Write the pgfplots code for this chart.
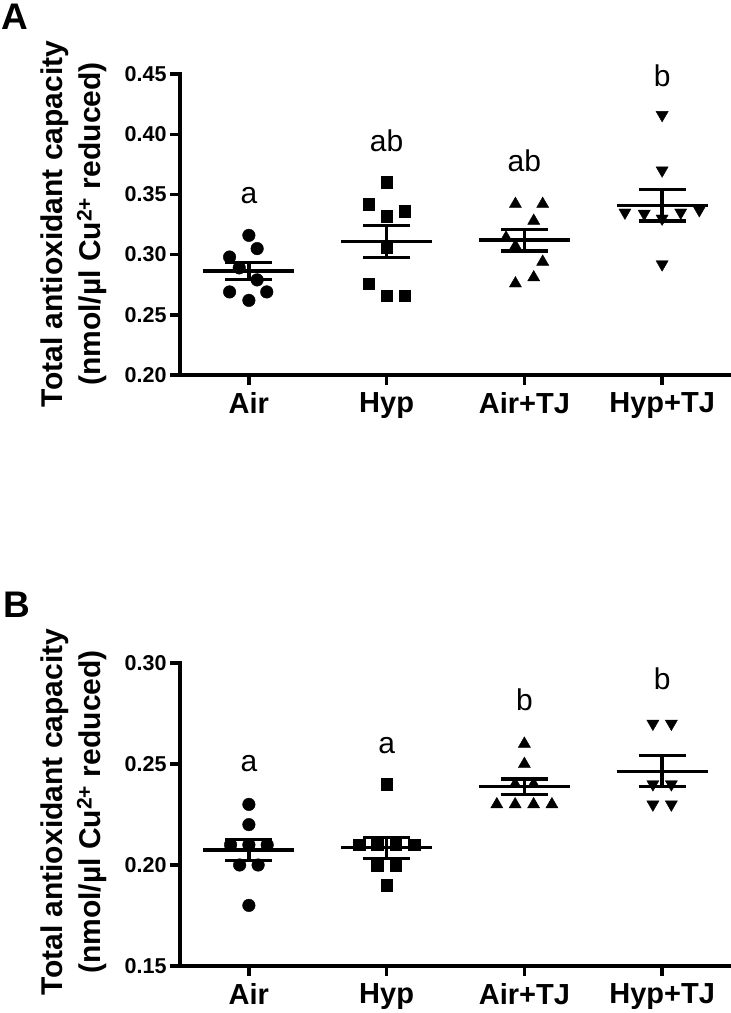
\documentclass[border=0pt]{standalone}
\usepackage{pgfplots}
\pgfplotsset{compat=1.18}
\usepackage{fontspec}
\setmainfont{Liberation Sans}

\begin{document}
\begin{tikzpicture}
\pgfplotsset{
  panel/.style={
    scale only axis, width=551pt,
    xmin=-0.5, xmax=3.5,
    axis x line*=bottom, axis y line*=left,
    axis line style={line width=3.4pt, line cap=rect},
    tick style={line width=3.4pt, black},
    tick align=outside,
    major tick length=10pt,
    xtick={0,1,2,3},
    xticklabels={Air,Hyp,Air+TJ,Hyp+TJ},
    x tick label style={font=\fontsize{29}{33}\selectfont\bfseries, yshift=-4pt},
    y tick label style={font=\fontsize{21.5}{25}\selectfont\bfseries},
    yticklabel style={/pgf/number format/assume math mode=true, /pgf/number format/fixed, /pgf/number format/precision=2, /pgf/number format/fixed zerofill},
    clip=false,
    anchor=south west,
  },
  circ/.style={only marks, mark=*, mark size=6.3pt, black},
  sq/.style={only marks, mark=square*, mark size=5.8pt, black},
  tri/.style={only marks, mark=triangle*, mark size=7pt, black},
  itri/.style={only marks, mark=triangle*, mark size=7pt, mark options={rotate=180}, black},
  msem/.style={line width=3.4pt, black, unbounded coords=jump, no marks},
}
\tikzset{lett/.style={font=\fontsize{30}{34}\selectfont, anchor=base, text depth=0pt}}

% ---------------- Panel A ----------------
\begin{axis}[panel, at={(180pt,-375pt)}, height=301pt, ymin=0.20, ymax=0.45,
  ytick={0.20,0.25,0.30,0.35,0.40,0.45}]
\addplot[circ] coordinates {(0,0.316) (0.06,0.305) (-0.14,0.298) (-0.07,0.289) (0.06,0.279) (-0.14,0.269) (0.13,0.269) (0,0.262)};
\addplot[sq] coordinates {(1,0.360) (0.87,0.342) (1.13,0.336) (1,0.332) (1,0.306) (0.87,0.276) (1,0.266) (1.13,0.266)};
\addplot[tri] coordinates {(1.935,0.342) (2.133,0.342) (2.068,0.328) (1.867,0.314) (1.935,0.307) (2.133,0.294) (2.068,0.281) (1.935,0.276)};
\addplot[itri] coordinates {(3,0.416) (3,0.370) (2.73,0.335) (2.87,0.334) (3,0.330) (3.135,0.335) (3.27,0.337) (3,0.292)};
% mean and SEM
\addplot[msem] coordinates {(-0.33,0.2865) (0.33,0.2865) (0,nan) (-0.17,0.2935) (0.17,0.2935) (0,nan) (-0.17,0.2795) (0.17,0.2795) (0,nan) (0,0.2795) (0,0.2935)};
\addplot[msem] coordinates {(0.67,0.311) (1.33,0.311) (1,nan) (0.83,0.324) (1.17,0.324) (1,nan) (0.83,0.2975) (1.17,0.2975) (1,nan) (1,0.2975) (1,0.324)};
\addplot[msem] coordinates {(1.67,0.312) (2.33,0.312) (2,nan) (1.83,0.321) (2.17,0.321) (2,nan) (1.83,0.303) (2.17,0.303) (2,nan) (2,0.303) (2,0.321)};
\addplot[msem] coordinates {(2.67,0.341) (3.33,0.341) (3,nan) (2.83,0.354) (3.17,0.354) (3,nan) (2.83,0.328) (3.17,0.328) (3,nan) (3,0.328) (3,0.354)};
\node[lett] at (axis cs:0,0.3426) {a};
\node[lett] at (axis cs:1,0.386) {ab};
\node[lett] at (axis cs:2,0.369) {ab};
\node[lett] at (axis cs:3,0.4395) {b};
\end{axis}

% ---------------- Panel B ----------------
\begin{axis}[panel, at={(180pt,-966pt)}, height=303pt, ymin=0.15, ymax=0.30,
  ytick={0.15,0.20,0.25,0.30}]
\addplot[circ] coordinates {(0,0.23) (0,0.22) (-0.133,0.21) (0,0.21) (0.133,0.21) (-0.067,0.20) (0.067,0.20) (0,0.18)};
\addplot[sq] coordinates {(1,0.24) (0.8,0.21) (0.933,0.21) (1.067,0.21) (1.2,0.21) (0.933,0.20) (1.067,0.20) (1,0.19)};
\addplot[tri] coordinates {(2,0.26) (2,0.25) (1.933,0.24) (2.067,0.24) (1.8,0.23) (1.933,0.23) (2.067,0.23) (2.2,0.23)};
\addplot[itri] coordinates {(2.933,0.27) (3.067,0.27) (2.933,0.24) (3.067,0.24) (2.933,0.23) (3.067,0.23)};
\addplot[msem] coordinates {(-0.33,0.2075) (0.33,0.2075) (0,nan) (-0.17,0.2127) (0.17,0.2127) (0,nan) (-0.17,0.2021) (0.17,0.2021) (0,nan) (0,0.2021) (0,0.2127)};
\addplot[msem] coordinates {(0.67,0.2088) (1.33,0.2088) (1,nan) (0.83,0.2137) (1.17,0.2137) (1,nan) (0.83,0.2033) (1.17,0.2033) (1,nan) (1,0.2033) (1,0.2137)};
\addplot[msem] coordinates {(1.67,0.2388) (2.33,0.2388) (2,nan) (1.83,0.2426) (2.17,0.2426) (2,nan) (1.83,0.2350) (2.17,0.2350) (2,nan) (2,0.2350) (2,0.2426)};
\addplot[msem] coordinates {(2.67,0.2463) (3.33,0.2463) (3,nan) (2.83,0.2542) (3.17,0.2542) (3,nan) (2.83,0.2388) (3.17,0.2388) (3,nan) (3,0.2388) (3,0.2542)};
\node[lett] at (axis cs:0,0.2463) {a};
\node[lett] at (axis cs:1,0.255) {a};
\node[lett] at (axis cs:2,0.2765) {b};
\node[lett] at (axis cs:3,0.2868) {b};
\end{axis}

% y labels and panel letters
\node[rotate=90, align=center, font=\fontsize{30}{38}\selectfont\bfseries] at (74pt,-224pt)
  {Total antioxidant capacity\\(nmol/µl Cu\textsuperscript{2+} reduced)};
\node[rotate=90, align=center, font=\fontsize{30}{38}\selectfont\bfseries] at (74pt,-812pt)
  {Total antioxidant capacity\\(nmol/µl Cu\textsuperscript{2+} reduced)};
\node[font=\fontsize{37}{41}\selectfont\bfseries] at (15pt,-17pt) {A};
\node[font=\fontsize{37}{41}\selectfont\bfseries] at (17pt,-605pt) {B};

\pgfresetboundingbox
\useasboundingbox (0pt,0pt) rectangle (731pt,-1013pt);
\end{tikzpicture}
\end{document}
